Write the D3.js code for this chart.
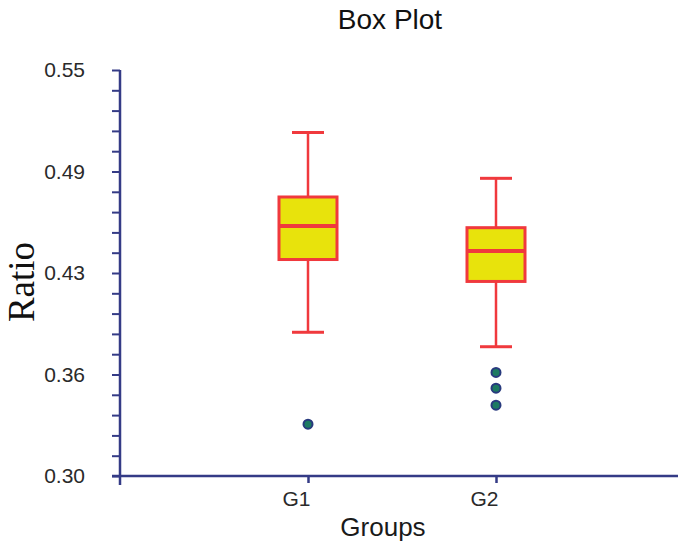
<!DOCTYPE html>
<html>
<head>
<meta charset="utf-8">
<script src="https://cdn.jsdelivr.net/npm/d3@7"></script>
<style>
  body { margin: 0; background: #fff; }
  svg { display: block; }
</style>
</head>
<body>
<svg id="chart" width="678" height="543"></svg>
<script>
// data
const groups = ["G1", "G2"];
const whiskerLow = [0.3885, 0.3796];
const q1 = [0.4333, 0.4198];
const median = [0.4539, 0.4385];
const q3 = [0.4718, 0.4529];
const whiskerHigh = [0.5115, 0.4833];
const outliers = [[0.3319], [0.3638, 0.3541, 0.3436]];
const majorTicks = [0.30, 0.3625, 0.425, 0.4875, 0.55];
const tickLabels = ["0.30", "0.36", "0.43", "0.49", "0.55"];

const svg = d3.select("#chart");
const axisColor = "#343b86";
const red = "#f0393d";
const sans = "Liberation Sans, Arial, sans-serif";

const y = d3.scaleLinear().domain([0.30, 0.55]).range([476, 70]);
const x = d3.scaleLinear().domain([0, 3]).range([120, 684]);

// minor ticks every 0.0125
const allTicks = d3.range(21).map(i => 0.30 + i * 0.0125);

const yAxis = svg.append("g")
    .attr("transform", "translate(120,0)")
    .call(d3.axisLeft(y)
        .tickValues(allTicks)
        .tickSize(8)
        .tickPadding(27)
        .tickFormat(d => {
            let k = majorTicks.findIndex(m => Math.abs(m - d) < 1e-6);
            return k >= 0 ? tickLabels[k] : "";
        }));
yAxis.select(".domain").remove();
yAxis.selectAll(".tick line").attr("stroke", axisColor).attr("stroke-width", 2);
yAxis.selectAll(".tick text")
    .attr("fill", "#2a2a2a")
    .style("font-family", sans)
    .style("font-size", "21px");

const xAxis = svg.append("g")
    .attr("transform", "translate(0,476)")
    .call(d3.axisBottom(x)
        .tickValues([1, 2])
        .tickSize(7)
        .tickPadding(8)
        .tickFormat(d => groups[d - 1]));
xAxis.select(".domain").remove();
xAxis.selectAll(".tick line").attr("stroke", axisColor).attr("stroke-width", 2.5);
// labels sit to the left of their tick in the original
xAxis.selectAll(".tick text")
    .attr("text-anchor", "end")
    .attr("dx", 2)
    .attr("fill", "#2a2a2a")
    .style("font-family", sans)
    .style("font-size", "21px");

// axis lines
svg.append("line")
    .attr("x1", 120).attr("x2", 120)
    .attr("y1", y(0.55)).attr("y2", 485)
    .attr("stroke", axisColor).attr("stroke-width", 2.5);
svg.append("line")
    .attr("x1", 112).attr("x2", 678)
    .attr("y1", 476).attr("y2", 476)
    .attr("stroke", axisColor).attr("stroke-width", 2.5);

// boxes
const boxW = 58, capW = 32;
const box = svg.append("g").selectAll("g")
    .data(groups)
    .join("g")
    .attr("transform", (d, i) => "translate(" + x(i + 1) + ",0)");

box.append("line")
    .attr("x1", 0).attr("x2", 0)
    .attr("y1", (d, i) => y(whiskerHigh[i]))
    .attr("y2", (d, i) => y(whiskerLow[i]))
    .attr("stroke", red).attr("stroke-width", 2.5);

box.append("line")
    .attr("x1", -capW / 2).attr("x2", capW / 2)
    .attr("y1", (d, i) => y(whiskerHigh[i]))
    .attr("y2", (d, i) => y(whiskerHigh[i]))
    .attr("stroke", red).attr("stroke-width", 3);
box.append("line")
    .attr("x1", -capW / 2).attr("x2", capW / 2)
    .attr("y1", (d, i) => y(whiskerLow[i]))
    .attr("y2", (d, i) => y(whiskerLow[i]))
    .attr("stroke", red).attr("stroke-width", 3);

box.append("rect")
    .attr("x", -boxW / 2)
    .attr("width", boxW)
    .attr("y", (d, i) => y(q3[i]))
    .attr("height", (d, i) => y(q1[i]) - y(q3[i]))
    .attr("fill", "#e8e30c")
    .attr("stroke", red).attr("stroke-width", 3);

box.append("line")
    .attr("x1", -boxW / 2).attr("x2", boxW / 2)
    .attr("y1", (d, i) => y(median[i]))
    .attr("y2", (d, i) => y(median[i]))
    .attr("stroke", red).attr("stroke-width", 4);

box.selectAll("circle")
    .data((d, i) => outliers[i])
    .join("circle")
    .attr("cx", 0)
    .attr("cy", d => y(d))
    .attr("r", 4.5)
    .attr("fill", "#1d7a62")
    .attr("stroke", "#283a7e")
    .attr("stroke-width", 2);

// titles
svg.append("text")
    .attr("x", 390).attr("y", 29)
    .attr("text-anchor", "middle")
    .attr("fill", "#111")
    .style("font-family", sans)
    .style("font-size", "28px")
    .text("Box Plot");

svg.append("text")
    .attr("x", 383).attr("y", 536)
    .attr("text-anchor", "middle")
    .attr("fill", "#1a1a1a")
    .style("font-family", sans)
    .style("font-size", "26px")
    .text("Groups");

svg.append("text")
    .attr("transform", "translate(34,282) rotate(-90)")
    .attr("text-anchor", "middle")
    .attr("fill", "#111")
    .style("font-family", "Liberation Serif, Times New Roman, serif")
    .style("font-size", "37px")
    .text("Ratio");
</script>
</body>
</html>
